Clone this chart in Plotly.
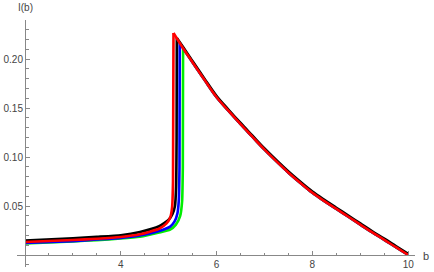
import plotly.graph_objects as go

# shared descending branch (b, I)
desc_b = [5.10, 5.30, 5.50, 5.75, 6.00, 6.25, 6.50, 6.75, 7.00, 7.25, 7.50,
          7.75, 8.00, 8.25, 8.50, 8.75, 9.00, 9.25, 9.50, 9.75, 10.00]
desc_I = [0.2265, 0.211, 0.1965, 0.1785, 0.161, 0.147, 0.1335, 0.1205, 0.1075, 0.0955, 0.084,
          0.0735, 0.0635, 0.055, 0.047, 0.039, 0.031, 0.023, 0.0155, 0.0077, 0.000]

# rising branches for each curve (last point is where it meets the descending branch)
green_b = [2.0, 3.0, 3.5, 4.0, 4.4, 4.8, 5.03, 5.15, 5.24, 5.28, 5.295, 5.30]
green_I = [0.0118, 0.0138, 0.0152, 0.0168, 0.0187, 0.0230, 0.0260, 0.031, 0.040, 0.055, 0.090, 0.211]

blue_b = [2.0, 3.0, 3.5, 4.0, 4.4, 4.8, 5.03, 5.12, 5.18, 5.21, 5.225, 5.23]
blue_I = [0.0122, 0.0142, 0.0158, 0.0175, 0.0200, 0.0246, 0.0290, 0.034, 0.042, 0.055, 0.090, 0.2163]

black_b = [2.0, 3.0, 3.5, 4.0, 4.4, 4.8, 5.00, 5.08, 5.13, 5.155, 5.165, 5.17]
black_I = [0.0148, 0.0170, 0.0185, 0.0202, 0.0235, 0.0293, 0.0360, 0.042, 0.050, 0.070, 0.120, 0.2215]

red_b = [2.0, 3.0, 3.5, 4.0, 4.4, 4.8, 4.95, 5.03, 5.07, 5.09, 5.10]
red_I = [0.0133, 0.0153, 0.0166, 0.0184, 0.0212, 0.0268, 0.0320, 0.038, 0.048, 0.075, 0.2265]

black_offset = 0.0012

x_ticks = [4, 6, 8, 10]
x_ticklabels = ["4", "6", "8", "10"]
y_ticks = [0.05, 0.10, 0.15, 0.20]
y_ticklabels = ["0.05", "0.10", "0.15", "0.20"]


def desc_from(b0, I0, offset=0.0):
    bs = [b0] + [b for b in desc_b if b > b0 + 1e-9]
    Is = [I0] + [v + offset for b, v in zip(desc_b, desc_I) if b > b0 + 1e-9]
    return bs, Is


fig = go.Figure()
curves = [
    (green_b, green_I, "#00ee00", 0.0),
    (blue_b, blue_I, "#0000ff", 0.0),
    (black_b, black_I, "#000000", black_offset),
    (red_b, red_I, "#ff0000", 0.0),
]
for rb, ri, col, off in curves:
    fig.add_trace(go.Scatter(x=rb, y=ri, mode="lines",
                             line=dict(color=col, width=2.6, shape="spline", smoothing=0.5),
                             showlegend=False, hoverinfo="skip"))
    db, dI = desc_from(rb[-1], ri[-1], off)
    fig.add_trace(go.Scatter(x=db, y=dI, mode="lines",
                             line=dict(color=col, width=2.6, shape="spline", smoothing=1.0),
                             showlegend=False, hoverinfo="skip"))

W, H = 434, 272
axis_col = "#888888"
font_col = "#444444"

fig.update_layout(
    width=W, height=H,
    margin=dict(l=0, r=0, t=0, b=0, pad=0, autoexpand=False),
    paper_bgcolor="white", plot_bgcolor="white",
    font=dict(family="Liberation Sans, Arial, sans-serif", size=10, color=font_col),
    xaxis=dict(
        domain=[17 / W, 415 / W], range=[1.833, 10.142],
        anchor="free", position=(H - 255) / H, automargin=False,
        showgrid=False, zeroline=False,
        showline=True, linecolor=axis_col, linewidth=1,
        ticks="inside", ticklen=4, tickcolor=axis_col, tickwidth=1,
        tickvals=x_ticks, ticktext=x_ticklabels,
        minor=dict(dtick=0.5, tick0=0, ticks="inside", ticklen=2.5,
                   tickcolor=axis_col, tickwidth=1, showgrid=False),
        tickfont=dict(size=10, color=font_col),
    ),
    yaxis=dict(
        domain=[(H - 267) / H, (H - 20) / H], range=[-0.01224, 0.2398],
        anchor="free", position=25 / W, automargin=False,
        showgrid=False, zeroline=False,
        showline=True, linecolor=axis_col, linewidth=1,
        ticks="inside", ticklen=4, tickcolor=axis_col, tickwidth=1,
        tickvals=y_ticks, ticktext=y_ticklabels,
        minor=dict(dtick=0.01, tick0=0, ticks="inside", ticklen=2.5,
                   tickcolor=axis_col, tickwidth=1, showgrid=False),
        tickfont=dict(size=10, color=font_col),
    ),
    annotations=[
        dict(text="I(b)", x=25 / W, y=(H - 7) / H, xref="paper", yref="paper",
             showarrow=False, xanchor="center", yanchor="middle",
             font=dict(size=10, color=font_col)),
        dict(text="b", x=426 / W, y=(H - 256) / H, xref="paper", yref="paper",
             showarrow=False, xanchor="center", yanchor="middle",
             font=dict(size=11, color=font_col)),
    ],
)

fig.write_html(
    "out.html",
    config={"displayModeBar": False},
    post_script="document.body.style.margin='0';document.body.style.overflow='hidden';",
)
